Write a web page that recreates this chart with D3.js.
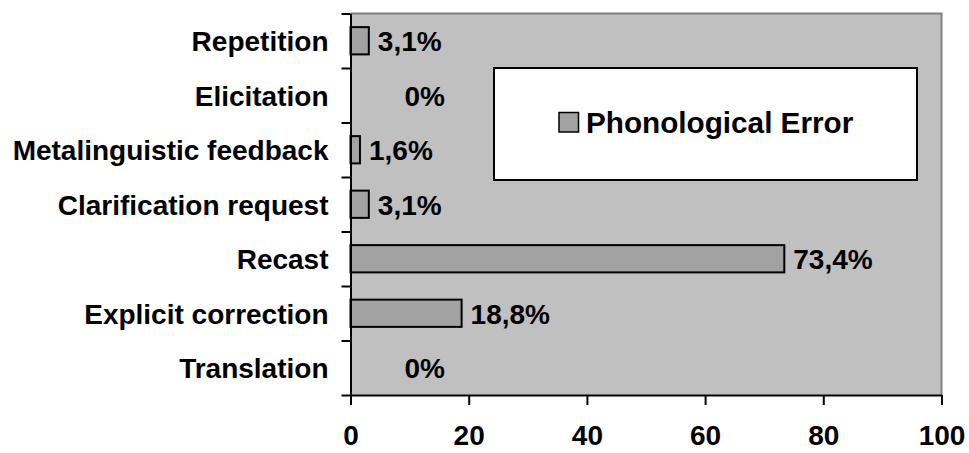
<!DOCTYPE html>
<html>
<head>
<meta charset="utf-8">
<script src="https://cdn.jsdelivr.net/npm/d3@7"></script>
<style>
  body { margin: 0; background: #fff; }
  text { font-family: "Liberation Sans", Arial, sans-serif; font-weight: bold; }
</style>
</head>
<body>
<div id="chart"></div>
<script>
// categories from top to bottom
const categories = ["Repetition", "Elicitation", "Metalinguistic feedback", "Clarification request", "Recast", "Explicit correction", "Translation"];
const values = [3.1, 0, 1.6, 3.1, 73.4, 18.8, 0];
const valueLabels = ["3,1%", "0%", "1,6%", "3,1%", "73,4%", "18,8%", "0%"];
const xTicks = [0, 20, 40, 60, 80, 100];
const seriesName = "Phonological Error";

const W = 969, H = 453;
const plot = {left: 350.5, right: 941.5, top: 13.5, bottom: 395};
const barFill = "#a2a2a2";

const svg = d3.select("#chart")
    .append("svg")
    .attr("width", W)
    .attr("height", H);

// plot area background
svg.append("rect")
    .attr("x", plot.left)
    .attr("y", plot.top)
    .attr("width", plot.right - plot.left)
    .attr("height", plot.bottom - plot.top)
    .attr("fill", "#c0c0c0");

// grey border top + right
svg.append("path")
    .attr("d", `M${plot.left},${plot.top}H${plot.right}V${plot.bottom}`)
    .attr("fill", "none")
    .attr("stroke", "#808080")
    .attr("stroke-width", 2);

const x = d3.scaleLinear()
    .domain([0, 100])
    .range([plot.left, plot.right]);

const y = d3.scaleBand()
    .domain(categories)
    .range([plot.top, plot.bottom])
    .paddingInner(0.5)
    .paddingOuter(0.25);

// edge scale for the category ticks (between bands)
const yEdge = d3.scaleLinear()
    .domain([0, categories.length])
    .range([plot.bottom, plot.top]);

// bars
svg.append("g")
    .selectAll("rect")
    .data(values)
    .join("rect")
    .attr("x", x(0))
    .attr("y", (d, i) => y(categories[i]))
    .attr("width", d => x(d) - x(0))
    .attr("height", y.bandwidth())
    .attr("fill", barFill)
    .attr("stroke", "#000")
    .attr("stroke-width", 2)
    .style("display", d => d > 0 ? null : "none");

// value labels
svg.append("g")
    .selectAll("text")
    .data(values)
    .join("text")
    .attr("x", d => d > 0 ? x(d) + 9 : x(0) + 54)
    .attr("y", (d, i) => y(categories[i]) + y.bandwidth() / 2)
    .attr("dy", "0.37em")
    .style("font-size", "28px")
    .text((d, i) => valueLabels[i]);

// category labels
svg.append("g")
    .selectAll("text")
    .data(categories)
    .join("text")
    .attr("x", plot.left - 22)
    .attr("y", d => y(d) + y.bandwidth() / 2)
    .attr("dy", "0.37em")
    .attr("text-anchor", "end")
    .style("font-size", "28px")
    .text(d => d);

// Y axis
const yAxis = svg.append("g")
    .attr("transform", `translate(${plot.left},0)`)
    .call(d3.axisLeft(yEdge).ticks(categories.length).tickFormat("").tickSize(9).tickSizeOuter(0));
yAxis.selectAll("path, line").attr("stroke", "#000").attr("stroke-width", 2);

// X axis
const xAxis = svg.append("g")
    .attr("transform", `translate(0,${plot.bottom})`)
    .call(d3.axisBottom(x).tickValues(xTicks).tickSize(10).tickSizeOuter(0).tickPadding(20));
xAxis.selectAll("path, line").attr("stroke", "#000").attr("stroke-width", 2);
xAxis.selectAll("text")
    .attr("fill", "#000")
    .style("font-size", "28px")
    .style("font-family", "\"Liberation Sans\", Arial, sans-serif")
    .style("font-weight", "bold");

// legend
const legend = svg.append("g");
legend.append("rect")
    .attr("x", 494)
    .attr("y", 68)
    .attr("width", 423)
    .attr("height", 112)
    .attr("fill", "#fff")
    .attr("stroke", "#000")
    .attr("stroke-width", 2);
legend.append("rect")
    .attr("x", 559)
    .attr("y", 112.5)
    .attr("width", 19.5)
    .attr("height", 19.5)
    .attr("fill", barFill)
    .attr("stroke", "#000")
    .attr("stroke-width", 1.5);
legend.append("text")
    .attr("x", 586)
    .attr("y", 122)
    .attr("dy", "0.37em")
    .style("font-size", "29.7px")
    .text(seriesName);
</script>
</body>
</html>
